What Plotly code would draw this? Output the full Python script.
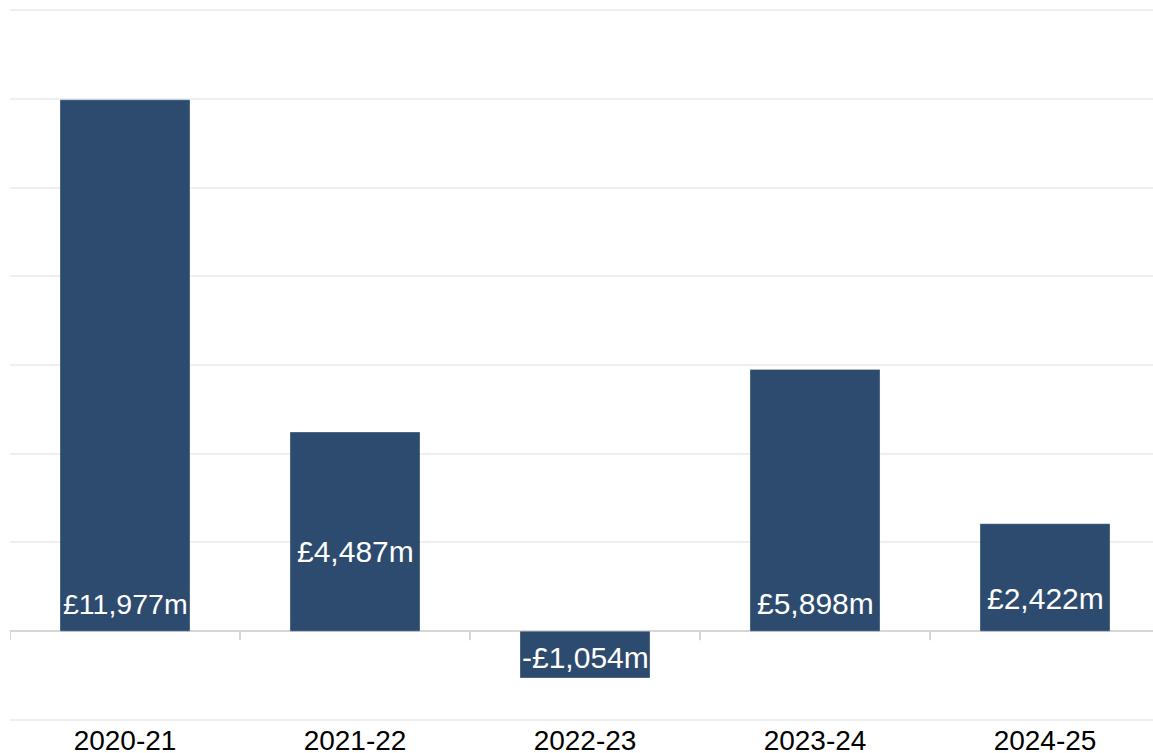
import plotly.graph_objects as go

# Annual figures, £ millions
years = ["2020-21", "2021-22", "2022-23", "2023-24", "2024-25"]
values = [11977, 4487, -1054, 5898, 2422]


def money_label(v):
    return f"-£{abs(v):,}m" if v < 0 else f"£{v:,}m"


labels = [money_label(v) for v in values]

# label styling: distance of each label's centre from the zero line (px) and font size
label_lift_px = [27, 80, -26, 28, 33]
label_size = [28.5, 30, 30, 30, 30]

BAR_COLOUR = "#2d4a6f"
FONT = "Liberation Sans, Arial, sans-serif"

xs = list(range(len(years)))

fig = go.Figure(
    go.Bar(
        x=xs,
        y=values,
        marker=dict(color=BAR_COLOUR, line=dict(color="rgba(255,255,255,0.45)", width=0.6)),
        hoverinfo="skip",
    )
)

# value labels sitting inside the bars, anchored at the zero line
for x, lab, lift, size in zip(xs, labels, label_lift_px, label_size):
    fig.add_annotation(
        x=x,
        y=0,
        xref="x",
        yref="y",
        text=lab,
        showarrow=False,
        xanchor="center",
        yanchor="middle",
        yshift=lift,
        font=dict(family=FONT, size=size, color="white"),
    )

# small tick marks on the zero line between categories
for i in xs:
    fig.add_shape(
        type="line",
        xref="x",
        yref="y",
        x0=i - 0.5,
        x1=i - 0.5,
        ysizemode="pixel",
        yanchor=0,
        y0=0,
        y1=-9,
        line=dict(color="#d6d6d6", width=2),
        layer="below",
    )

plot_width_px = 1153 - 10
cat_px = 230

fig.update_layout(
    width=1153,
    height=753,
    autosize=False,
    margin=dict(l=10, r=0, t=9, b=32, autoexpand=False),
    paper_bgcolor="white",
    plot_bgcolor="white",
    bargap=0.435,
    showlegend=False,
    font=dict(family=FONT, color="black"),
    xaxis=dict(
        tickmode="array",
        tickvals=xs,
        ticktext=years,
        range=[-0.5, plot_width_px / cat_px - 0.5],
        showgrid=False,
        zeroline=False,
        showline=False,
        ticks="",
        automargin=False,
        tickfont=dict(family=FONT, size=28, color="black"),
        fixedrange=True,
    ),
    yaxis=dict(
        range=[-2025, 14025],
        tickmode="linear",
        tick0=0,
        dtick=2000,
        showticklabels=False,
        showgrid=True,
        gridcolor="#efefef",
        gridwidth=2,
        zeroline=True,
        zerolinecolor="#d6d6d6",
        zerolinewidth=2,
        automargin=False,
        fixedrange=True,
    ),
)

fig.write_html("out.html")
